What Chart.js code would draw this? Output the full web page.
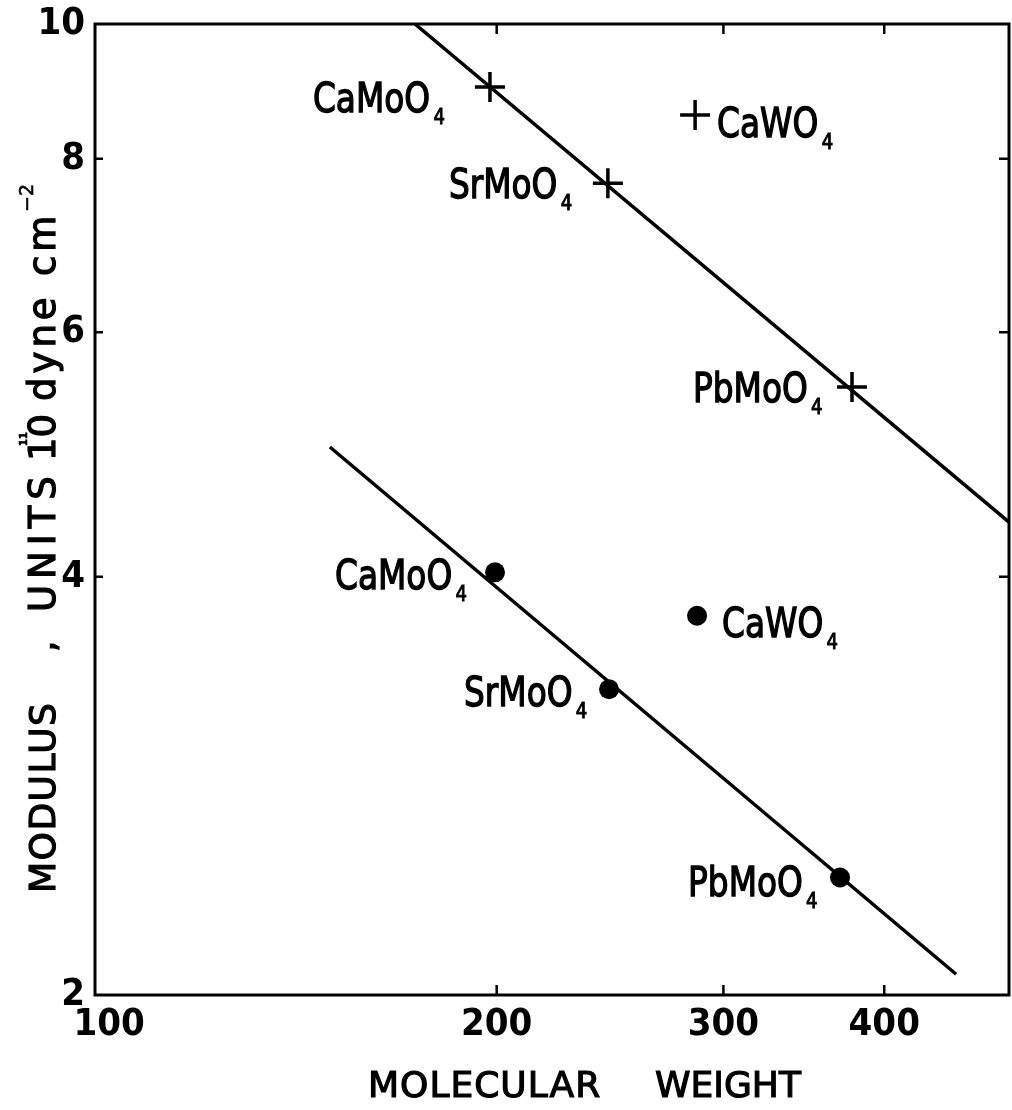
<!DOCTYPE html>
<html>
<head>
<meta charset="utf-8">
<script src="https://cdn.jsdelivr.net/npm/chart.js@4.4.1/dist/chart.umd.min.js"></script>
<style>
html, body { margin: 0; padding: 0; background: #fff; }
#chart { display: block; }
</style>
</head>
<body>
<canvas id="chart" width="1012" height="1110"></canvas>
<script>
// ======================== DATA ========================
const compounds = ['CaMoO', 'SrMoO', 'CaWO', 'PbMoO'];
const subscript = '4';

// crosses (upper set)
const weightPlus = [197.6, 244.0, 285.2, 377.6];
const modulusPlus = [9.01, 7.68, 8.60, 5.48];

// filled dots (lower set)
const weightDot = [199.4, 244.5, 286.2, 369.6];
const modulusDot = [4.03, 3.32, 3.75, 2.43];

// fitted lines, end points
const fitPlusX = [172.8, 500];
const fitPlusY = [10, 4.38];
const fitDotX = [148.4, 454.9];
const fitDotY = [4.96, 2.07];

const xTicks = [100, 200, 300, 400];
const yTicks = [2, 4, 6, 8, 10];

// ======================== STYLE ========================
const FONT = '"DejaVu Sans", sans-serif';
const TICK_FONT = '"DejaVu Sans Condensed", "DejaVu Sans", sans-serif';
// label offsets from each marker: [dx to text start, dy to baseline]
const plusLabelPos = [[-177, 25], [-159, 15], [22, 22], [-159, 15]];
const dotLabelPos = [[-160, 17], [-145, 17], [25, 21], [-152, 18]];

function pairs(xs, ys) {
    return xs.map((x, i) => ({ x, y: ys[i] }));
}

// fill + thin stroke so the lettering looks as heavy as the pen lettering
function heavyText(ctx, text, x, y, weight) {
    ctx.lineWidth = weight;
    ctx.strokeText(text, x, y);
    ctx.fillText(text, x, y);
}

function drawFormula(ctx, name, x, y) {
    ctx.save();
    ctx.translate(x, y);
    ctx.scale(0.82, 1);
    ctx.font = '40px ' + FONT;
    ctx.textAlign = 'left';
    ctx.textBaseline = 'alphabetic';
    heavyText(ctx, name, 0, 0, 1.4);
    const w = ctx.measureText(name).width;
    ctx.font = '22px ' + FONT;
    heavyText(ctx, subscript, w + 4, 12, 1);
    ctx.restore();
}

// y title pieces: start (screen y, text runs upward), size, baseline shift
const yTitleParts = [
    { text: 'MODULUS', at: 893, size: 36, shift: 0, spacing: 1.5 },
    { text: ',', at: 652, size: 36, shift: 0 },
    { text: 'UNITS', at: 612, size: 37, shift: 0, spacing: 6 },
    { text: '10', at: 461, size: 37, shift: 0 },
    { text: '11', at: 446, size: 10, shift: -28, bold: true },
    { text: 'dyne', at: 401, size: 37, shift: 0, spacing: 4 },
    { text: 'cm', at: 276, size: 37, shift: 0, spacing: 4 },
    { text: '\u22122', at: 212, size: 19, shift: -22 },
];

const framePlugin = {
    id: 'framePlugin',
    afterDraw(chart) {
        const { ctx, chartArea: a, scales } = chart;
        const sx = scales.x;
        const sy = scales.y;
        ctx.save();
        ctx.strokeStyle = '#000';
        ctx.fillStyle = '#000';
        ctx.lineWidth = 3;
        ctx.strokeRect(a.left, a.top, a.right - a.left, a.bottom - a.top);

        // inward tick marks
        ctx.lineWidth = 2.5;
        ctx.beginPath();
        xTicks.slice(1).forEach((v) => {
            const px = sx.getPixelForValue(v);
            ctx.moveTo(px, a.bottom);
            ctx.lineTo(px, a.bottom - 10);
            ctx.moveTo(px, a.top);
            ctx.lineTo(px, a.top + 10);
        });
        yTicks.slice(1, -1).forEach((v) => {
            const py = sy.getPixelForValue(v);
            ctx.moveTo(a.left, py);
            ctx.lineTo(a.left + 8, py);
            ctx.moveTo(a.right, py);
            ctx.lineTo(a.right - 10, py);
        });
        ctx.stroke();

        // compound labels
        const plusPts = chart.getDatasetMeta(2).data;
        const dotPts = chart.getDatasetMeta(3).data;
        compounds.forEach((c, i) => {
            drawFormula(ctx, c, plusPts[i].x + plusLabelPos[i][0], plusPts[i].y + plusLabelPos[i][1]);
            drawFormula(ctx, c, dotPts[i].x + dotLabelPos[i][0], dotPts[i].y + dotLabelPos[i][1]);
        });

        // x title
        ctx.font = '36px ' + FONT;
        ctx.textAlign = 'left';
        ctx.textBaseline = 'alphabetic';
        ctx.letterSpacing = '1px';
        heavyText(ctx, 'MOLECULAR', 368, 1097, 1.2);
        ctx.letterSpacing = '0px';
        heavyText(ctx, 'WEIGHT', 655, 1097, 1.2);

        // y title (rotated)
        yTitleParts.forEach((p) => {
            ctx.save();
            ctx.translate(55, p.at);
            ctx.rotate(-Math.PI / 2);
            ctx.font = (p.bold ? 'bold ' : '') + p.size + 'px ' + FONT;
            ctx.letterSpacing = (p.spacing || 0) + 'px';
            heavyText(ctx, p.text, 0, p.shift, p.size > 20 ? 1.2 : 0.6);
            ctx.restore();
        });
        ctx.restore();
    },
};

new Chart(document.getElementById('chart'), {
    type: 'scatter',
    data: {
        datasets: [
            {
                data: pairs(fitPlusX, fitPlusY),
                showLine: true,
                borderColor: '#000',
                borderWidth: 3.5,
                pointRadius: 0,
            },
            {
                data: pairs(fitDotX, fitDotY),
                showLine: true,
                borderColor: '#000',
                borderWidth: 3.5,
                pointRadius: 0,
            },
            {
                data: pairs(weightPlus, modulusPlus),
                pointStyle: 'cross',
                pointRadius: 15,
                borderColor: '#000',
                borderWidth: 3.5,
            },
            {
                data: pairs(weightDot, modulusDot),
                pointStyle: 'circle',
                pointRadius: 10,
                backgroundColor: '#000',
                borderColor: '#000',
                borderWidth: 0,
            },
        ],
    },
    options: {
        responsive: false,
        animation: false,
        devicePixelRatio: 1,
        layout: { autoPadding: false, padding: { top: 24, right: 3, left: 0, bottom: 0 } },
        plugins: {
            legend: { display: false },
            tooltip: { enabled: false },
        },
        scales: {
            x: {
                type: 'logarithmic',
                min: 97.5,
                max: 500,
                grid: { display: false, drawTicks: false },
                border: { display: false },
                afterBuildTicks: (s) => { s.ticks = xTicks.map((v) => ({ value: v })); },
                afterFit: (s) => {
                    s.height = 115;
                    s.paddingLeft = 0;
                    s.paddingRight = 0;
                },
                ticks: {
                    autoSkip: false,
                    maxRotation: 0,
                    padding: 7,
                    color: '#000',
                    font: { family: TICK_FONT, size: 38, weight: 'bold' },
                    callback: (v) => String(v),
                },
            },
            y: {
                type: 'logarithmic',
                min: 2,
                max: 10,
                grid: { display: false, drawTicks: false },
                border: { display: false },
                afterBuildTicks: (s) => { s.ticks = yTicks.map((v) => ({ value: v })); },
                afterFit: (s) => {
                    s.width = 95;
                    s.paddingTop = 0;
                    s.paddingBottom = 0;
                },
                ticks: {
                    autoSkip: false,
                    padding: 10,
                    color: '#000',
                    font: { family: TICK_FONT, size: 38, weight: 'bold' },
                    callback: (v) => String(v),
                },
            },
        },
    },
    plugins: [framePlugin],
});
</script>
</body>
</html>
